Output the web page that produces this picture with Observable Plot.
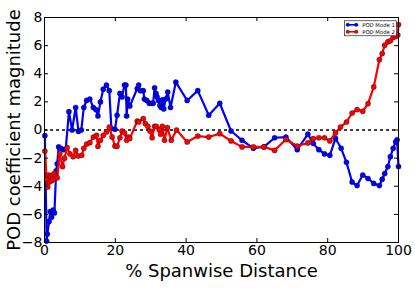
<!DOCTYPE html>
<html><head><meta charset="utf-8">
<script src="https://cdn.jsdelivr.net/npm/d3@7"></script>
<script src="https://cdn.jsdelivr.net/npm/@observablehq/plot@0.6"></script>
<style>body{margin:0;background:#fff} #chart svg{display:block}</style>
</head><body><div id="chart"></div>
<script>
// POD Mode 1 (blue)
const mode1X = [0.1,0.6,0.8,1.3,1.6,2.0,2.4,2.8,3.3,3.6,4.0,4.6,5.3,6.0,6.9,7.8,8.8,9.6,10.4,11.1,11.9,12.8,13.8,14.5,15.1,15.8,16.6,17.5,18.3,18.9,19.9,20.5,21.3,21.9,22.6,23.0,23.2,23.5,24.1,26.2,26.6,27.1,27.9,28.2,28.9,29.6,30.2,30.7,31.1,31.5,31.8,32.2,32.6,33.0,33.3,33.7,34.2,34.8,35.6,37.1,40.3,43.3,46.4,49.5,52.7,55.8,59.0,62.0,65.0,68.2,71.4,74.4,75.9,77.5,79.1,80.6,82.2,83.8,85.3,86.9,88.3,89.9,91.4,93.0,94.6,95.4,96.1,97.0,97.7,98.5,99.2,99.6,100];
const mode1Y = [-0.4,-7.9,-7.4,-6.5,-5.8,-6.2,-5.7,-5.9,-2.9,-2.4,-1.2,-1.3,-1.4,-1.35,1.3,0.0,1.6,-0.1,0.0,1.6,2.1,2.2,1.6,1.45,1.0,2.0,2.9,3.2,2.8,0.1,0.05,1.05,2.6,2.35,3.2,3.2,1.0,2.2,1.7,2.95,3.2,2.8,2.8,2.2,2.1,1.9,1.9,1.9,3.0,2.6,2.35,2.1,1.75,1.6,2.15,1.5,2.2,2.7,1.6,3.4,2.1,2.8,1.05,1.9,-0.07,-0.73,-1.3,-1.2,-0.55,-0.5,-1.4,-0.3,-0.95,-1.4,-1.7,-1.8,-0.6,-1.3,-2.3,-3.7,-3.95,-3.2,-3.45,-3.8,-3.95,-3.5,-3.1,-2.6,-1.9,-1.3,-0.85,-0.7,-2.6];
// POD Mode 2 (red)
const mode2X = [0.1,0.6,0.9,1.1,1.4,1.7,2.0,2.2,2.5,2.8,3.2,3.6,4.3,5.1,5.65,6.4,7.2,8.1,8.8,9.5,10.5,11.1,11.9,12.8,13.8,14.7,15.1,15.8,16.6,17.5,18.3,19.1,19.9,20.5,21.3,21.9,22.6,23.2,23.6,24.1,26.2,26.6,27.9,28.5,29.2,29.8,30.4,31.1,31.6,32.4,32.8,33.3,33.9,34.7,35.8,37.3,40.3,43.3,46.4,49.5,52.7,55.8,59.0,62.0,65.0,68.2,71.4,74.4,75.9,77.5,79.1,80.6,82.2,83.6,85.3,86.9,88.3,89.9,91.4,93.0,94.6,95.4,96.1,97.0,97.7,98.5,99.2,99.8,100];
const mode2Y = [-1.5,-3.5,-4.05,-3.2,-3.7,-3.3,-3.6,-3.2,-3.5,-3.1,-3.3,-3.4,-1.7,-2.6,-2.0,-1.25,-1.7,-1.9,-1.45,-1.85,-1.8,-1.3,-1.0,-0.9,-0.5,-0.38,-1.16,-0.73,-0.38,-0.14,0.21,-0.5,-1.14,-1.16,-0.55,-0.07,-0.2,-0.73,-0.5,-0.6,0.64,0.57,0.81,0.45,0.26,-0.07,-0.55,0.26,0.26,0.02,-0.3,0.26,-0.73,0.17,-0.73,0.0,-0.85,-0.43,-0.5,-0.26,-0.78,-1.2,-1.2,-1.2,-1.45,-0.68,-1.14,-0.92,-0.62,-0.55,-0.55,-0.78,-0.21,0.21,0.57,1.21,1.45,1.33,1.88,3.06,5.0,5.44,6.03,6.27,6.34,6.58,6.65,6.75,7.5];

const seriesNames = ["POD Mode 1", "POD Mode 2"];
const seriesColors = ["#0000ff", "#ff0000"];
const xTicks = [0, 20, 40, 60, 80, 100];
const yTicks = [-8, -6, -4, -2, 0, 2, 4, 6, 8];
const xTitle = "% Spanwise Distance";
const yTitle = "POD coefficient magnitude";

const W = 415, H = 289, mL = 44, mR = 17, mT = 17, mB = 47;
const fw = W - mL - mR, fh = H - mT - mB;
const font = "DejaVu Sans";

const series = [
  mode1X.map((x, i) => ({x, y: mode1Y[i]})),
  mode2X.map((x, i) => ({x, y: mode2Y[i]}))
];

const dataMarks = [];
series.forEach((s, k) => {
  dataMarks.push(Plot.line(s, {x: "x", y: "y", stroke: seriesColors[k], strokeWidth: 2.2}));
  dataMarks.push(Plot.dot(s, {x: "x", y: "y", r: 2.6, fill: seriesColors[k], stroke: "#000", strokeWidth: 0.35}));
});

const legendMarks = [
  Plot.frame({fill: "#fff", stroke: "#000", strokeWidth: 0.6, insetLeft: fw - 54, insetRight: 2, insetTop: 3.3, insetBottom: fh - 18.3})
];
seriesNames.forEach((name, k) => {
  const yy = 7.3 + 7 * k;
  legendMarks.push(Plot.frame({fill: seriesColors[k], stroke: null, insetLeft: fw - 52, insetRight: 41, insetTop: yy - 0.8, insetBottom: fh - yy - 0.8}));
  legendMarks.push(Plot.dot([name], {frameAnchor: "top-right", dx: -50.7, dy: yy, r: 1.8, fill: seriesColors[k], stroke: "#000", strokeWidth: 0.3}));
  legendMarks.push(Plot.dot([name], {frameAnchor: "top-right", dx: -42.3, dy: yy, r: 1.8, fill: seriesColors[k], stroke: "#000", strokeWidth: 0.3}));
  legendMarks.push(Plot.text([name], {frameAnchor: "top-right", dx: -36.3, dy: yy, text: d => d, textAnchor: "start", lineAnchor: "middle", fontSize: 5.3, fill: "#000"}));
});

const chart = Plot.plot({
  width: W, height: H,
  marginLeft: mL, marginRight: mR, marginTop: mT, marginBottom: mB,
  style: {fontFamily: font, background: "#fff", color: "#000"},
  x: {domain: [0, 100]},
  y: {domain: [-8, 8]},
  marks: [
    Plot.ruleY([0], {stroke: "#000", strokeDasharray: "3,3", strokeWidth: 1.3}),
    ...dataMarks,
    Plot.frame({stroke: "#000", strokeWidth: 1}),
    Plot.tickX(xTicks, {x: d => d, insetTop: fh - 4, stroke: "#000"}),
    Plot.tickX(xTicks, {x: d => d, insetBottom: fh - 4, stroke: "#000"}),
    Plot.tickY(yTicks, {y: d => d, insetRight: fw - 4, stroke: "#000"}),
    Plot.tickY(yTicks, {y: d => d, insetLeft: fw - 4, stroke: "#000"}),
    Plot.axisX(xTicks, {tickSize: 0, tickPadding: 3, fontSize: 14, label: null}),
    Plot.axisY(yTicks, {tickSize: 0, tickPadding: 2, fontSize: 14, label: null}),
    Plot.text([xTitle], {frameAnchor: "bottom", dy: 29, fontSize: 18, text: d => d, textAnchor: "middle", lineAnchor: "middle", fill: "#000"}),
    Plot.text([yTitle], {frameAnchor: "left", dx: -30, rotate: -90, fontSize: 18, text: d => d, textAnchor: "middle", lineAnchor: "middle", fill: "#000"}),
    ...legendMarks
  ]
});
document.getElementById("chart").append(chart);
</script>
</body></html>
